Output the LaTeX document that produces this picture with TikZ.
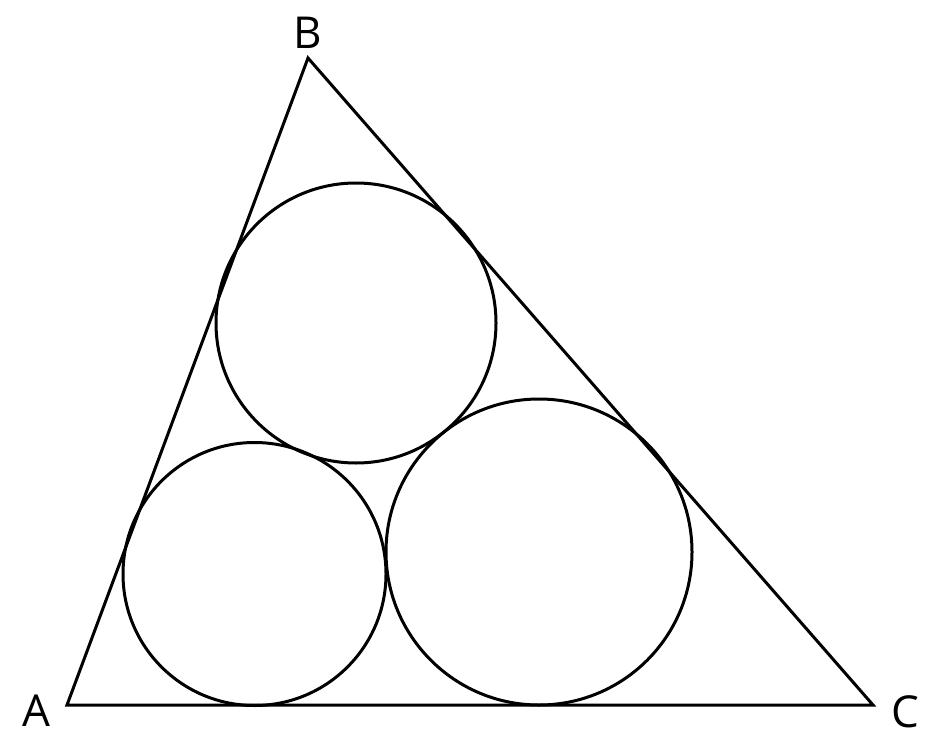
\documentclass[tikz,border=0pt]{standalone}
\usepackage{fontspec}
\setmainfont{Open Sans}
\begin{document}
\begin{tikzpicture}[x=1pt,y=-1pt,line width=3pt,
  lbl/.style={font=\fontsize{44}{44}\selectfont,inner sep=0pt,anchor=center},
  ring/.style={draw,line width=3pt}]
\useasboundingbox (0,0) rectangle (933,754);
\coordinate (A) at (67,705);
\coordinate (B) at (308,58);
\coordinate (C) at (873,705);
\draw[line join=miter] (A) -- (B) -- (C) -- cycle;
\draw[ring] (356,323) circle[radius=140];
\draw[ring] (254.5,574) circle[radius=131.5];
\draw[ring] (539,552) circle[radius=153];
\node[lbl] (la) at (36,711) {A};
\node[lbl] (lb) at (308,33) {B};
\node[lbl] (lc) at (905,712) {C};
\end{tikzpicture}
\end{document}
